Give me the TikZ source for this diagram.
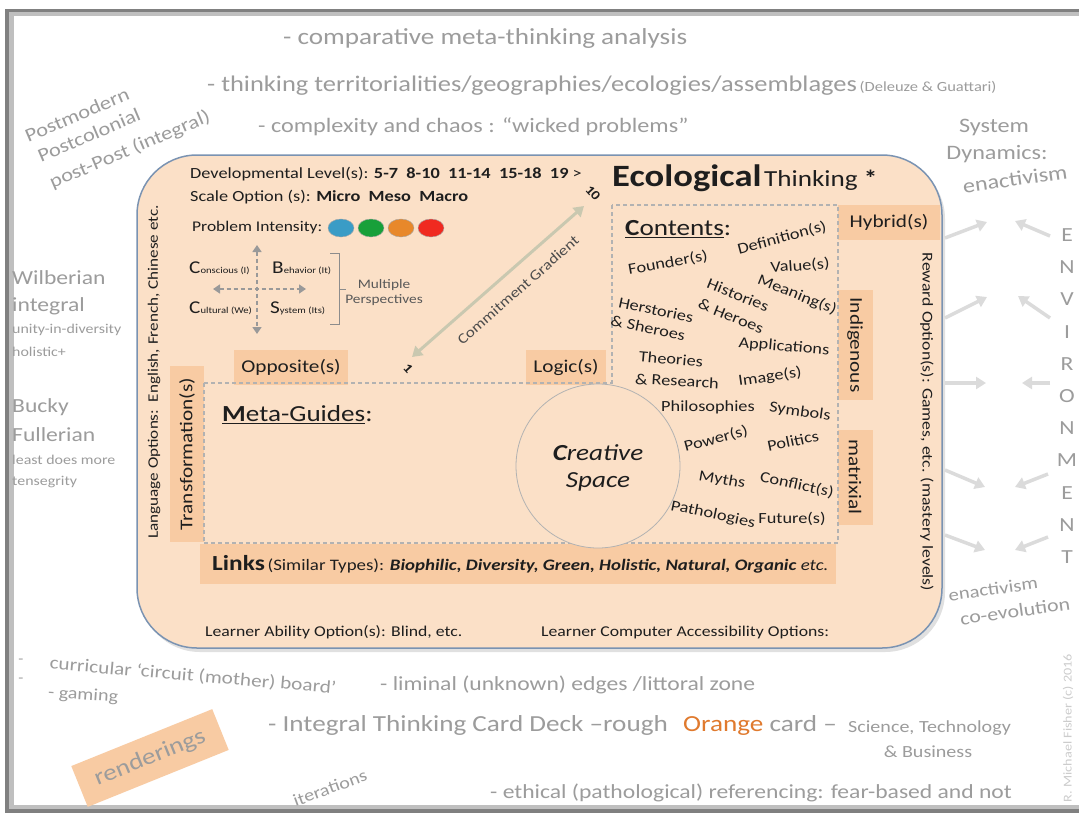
\documentclass[tikz,border=0pt]{standalone}
\usepackage{fontspec}
\setmainfont[FakeStretch=1.18]{Carlito}
\usetikzlibrary{arrows.meta}
\definecolor{cardfill}{HTML}{FBE0C7}
\definecolor{boxfill}{HTML}{F8CBA3}
\definecolor{cardline}{HTML}{7A93B2}
\definecolor{gtext}{HTML}{9C9C9C}
\definecolor{dtext}{HTML}{1E1E1E}
\definecolor{orangetxt}{HTML}{E07A2E}
\definecolor{cgcol}{HTML}{C9C8B0}
\definecolor{piblue}{HTML}{3A9CC6}
\definecolor{pigreen}{HTML}{18A03A}
\definecolor{piorange}{HTML}{E8882A}
\definecolor{pired}{HTML}{F02A20}
\newcommand{\myfs}[1]{\fontsize{#1}{#1}\selectfont}
\begin{document}
\begin{tikzpicture}[x=1pt,y=-1pt,
  g/.style={text=gtext, inner sep=0pt},
  d/.style={text=dtext, inner sep=0pt},
  pbox/.style={fill=boxfill, inner sep=0pt, draw=none, text=dtext},
  cw/.style={text=dtext, inner sep=0pt, font=\myfs{15.5}},
  envarrow/.style={draw=black!14, line width=3.5pt, -{Triangle[length=10pt,width=12pt]}},
  quadarrow/.style={draw=black!40, line width=1.6pt, dash pattern=on 4pt off 3pt, {Triangle[length=7pt,width=9pt]}-{Triangle[length=7pt,width=9pt]}},
  dashline/.style={draw=black!30, line width=1.2pt, dash pattern=on 4pt off 3pt},
]
\useasboundingbox (0,0) rectangle (1079,816);
\fill[white] (0,0) rectangle (1079,816);
% frame
\fill[black!50] (5,9) rectangle (1079,813);
\fill[black!25] (9,12) rectangle (1079,809);
\fill[white] (14,16) rectangle (1079,805);

% ---------- card ----------
\fill[black!12, rounded corners=60pt] (140,159) rectangle (945,652);
\draw[cardline, line width=1.5pt, fill=cardfill, rounded corners=60pt] (137,155) rectangle (942,648);

% boxes
\node[pbox, minimum width=114pt, minimum height=35pt, font=\myfs{18}] (opp) at (291,367) {Opposite(s)};
\node[pbox, minimum width=80pt, minimum height=35pt, font=\myfs{18}] (logic) at (566,367) {Logic(s)};
\node[pbox, rotate=90, minimum width=176pt, minimum height=34pt, font=\myfs{18}] (trans) at (187,454) {Transformation(s)};
\node[pbox, minimum width=102pt, minimum height=35pt, font=\myfs{18}] (hyb) at (889,222) {Hybrid(s)};
\node[pbox, rotate=-90, minimum width=110pt, minimum height=35pt, font=\myfs{18}] (indi) at (855,345) {Indigenous};
\node[pbox, rotate=-90, minimum width=95pt, minimum height=35pt, font=\myfs{18}] (matr) at (855,477) {matrixial};
\node[pbox, minimum width=636pt, minimum height=40pt] (linksbox) at (518,564) {};
\node[d, anchor=west] (links) at (212,564) {{\myfs{21.5}\textbf{Links}} {\myfs{16}(Similar Types): \textbf{\textit{Biophilic, Diversity, Green, Holistic, Natural, Organic}} \textit{etc.}}};

% dashed areas
\draw[dashline] (612,205) rectangle (838,543);
\draw[dashline] (204,383) -- (612,383);
\draw[dashline] (204,543) -- (612,543);
\draw[dashline] (204,383) -- (204,543);

% creative space
\node[circle, draw=black!30, line width=0.8pt, fill=cardfill, minimum size=164pt, inner sep=0pt] (cs) at (598,466) {};
\node[d, font=\myfs{23}\itshape] (cs1) at (598,453) {\textbf{C}reative};
\node[d, font=\myfs{23}\itshape] (cs2) at (598,482) {Space};

% headers
\node[d, anchor=west] (eco) at (612,178) {{\myfs{31}\textbf{Ecological}}\ {\myfs{23}Thinking \textbf{*}}};
\node[d, anchor=west, font=\myfs{15.5}] (dev) at (190,174) {Developmental Level(s): \textbf{5-7\ \ 8-10\ \ 11-14\ \ 15-18\ \ 19} >};
\node[d, anchor=west, font=\myfs{15.5}] (scale) at (190,197) {Scale Option (s): \textbf{Micro\ \ Meso\ \ Macro}};
\node[d, anchor=west, font=\myfs{14.8}] (pi) at (192,228) {Problem Intensity:};
\draw[black!35, fill=piblue] (341,228) ellipse [x radius=13pt, y radius=9pt];
\draw[black!35, fill=pigreen] (371,228) ellipse [x radius=13pt, y radius=9pt];
\draw[black!35, fill=piorange] (401,228) ellipse [x radius=13pt, y radius=9pt];
\draw[black!35, fill=pired] (431,228) ellipse [x radius=13pt, y radius=9pt];

% quadrants
\coordinate (qt) at (257,245);
\coordinate (qb) at (257,334);
\coordinate (ql) at (213,289);
\coordinate (qr) at (306,289);
\draw[quadarrow] (qt) -- (qb);
\draw[quadarrow] (ql) -- (qr);
\node[d, anchor=west] (q1) at (189,268) {{\myfs{18}C}{\myfs{9}onscious (I)}};
\node[d, anchor=west] (q2) at (272,268) {{\myfs{18}B}{\myfs{9}ehavior (It)}};
\node[d, anchor=west] (q3) at (189,308) {{\myfs{18}C}{\myfs{9}ultural (We)}};
\node[d, anchor=west] (q4) at (270,308) {{\myfs{18}S}{\myfs{9}ystem (Its)}};
\draw[black!45, line width=1pt] (330,253) -- (339,253) -- (339,324) -- (330,324);
\draw[black!45, line width=1pt] (339,289) -- (346,289);
\node[inner sep=0pt, text=black!65, font=\myfs{13}, align=center] (mp) at (384,293) {Multiple\\[2pt]Perspectives};

% commitment gradient
\coordinate (cg1) at (412,357);
\coordinate (cg2) at (584,206);
\draw[draw=cgcol, line width=3pt, {Triangle[length=10pt,width=12pt]}-{Triangle[length=10pt,width=12pt]}] (cg1) -- (cg2);
\node[inner sep=0pt, rotate=41.3, text=black!70, font=\myfs{14.5}] (cglab) at (518,290) {Commitment Gradient};
\node[d, rotate=-48, font=\myfs{13}\bfseries] (ten) at (593,193) {10};
\node[d, rotate=-48, font=\myfs{13}\bfseries] (one) at (408,369) {1};

% meta guides & contents
\node[d, anchor=west, font=\myfs{23}] (meta) at (222,415) {\underline{\textbf{M}eta-Guides}:};
\node[d, anchor=west, font=\myfs{23}] (cont) at (625,229) {\underline{\textbf{C}ontents}:};

\node[cw, rotate=15] (w1) at (782,238) {Definition(s)};
\node[cw, rotate=10] (w2) at (668,263) {Founder(s)};
\node[cw, rotate=4] (w3) at (800,266) {Value(s)};
\node[cw, rotate=-22] (w4) at (797,295) {Meaning(s)};
\node[cw, rotate=-22] (w5) at (738,295) {Histories};
\node[cw, rotate=-22] (w6) at (731,316) {\& Heroes};
\node[cw, rotate=-12] (w7) at (656,310) {Herstories};
\node[cw, rotate=-12] (w8) at (648,328) {\& Sheroes};
\node[cw, rotate=-5] (w9) at (671,359) {Theories};
\node[cw, rotate=-3] (w10) at (677,381) {\& Research};
\node[cw, rotate=-5] (w11) at (784,347) {Applications};
\node[cw, rotate=8] (w12) at (770,377) {Image(s)};
\node[cw] (w13) at (708,407) {Philosophies};
\node[cw, rotate=-8] (w14) at (800,412) {Symbols};
\node[cw, rotate=15] (w15) at (716,439) {Power(s)};
\node[cw, rotate=12] (w16) at (793,441) {Politics};
\node[cw, rotate=-10] (w17) at (722,480) {Myths};
\node[cw, rotate=-12] (w18) at (797,485) {Conflict(s)};
\node[cw, rotate=-12] (w19) at (713,515) {Pathologies};
\node[cw] (w20) at (792,519) {Future(s)};

% side texts
\node[d, rotate=90, font=\myfs{14.5}] (lang) at (154,372) {Language Options:\ \ English, French, Chinese etc.};
\node[d, rotate=-90, font=\myfs{15}] (reward) at (927,422) {Reward Option(s): Games, etc. (mastery levels)};
\node[d, anchor=west, font=\myfs{15}] (la) at (205,632) {Learner Ability Option(s): Blind, etc.};
\node[d, anchor=west, font=\myfs{15}] (lc) at (541,632) {Learner Computer Accessibility Options:};

% ---------- outside texts ----------
\node[g, anchor=west, font=\myfs{23}] (t1) at (283,38) {- comparative meta-thinking analysis};
\node[g, anchor=west] (t2) at (207,86) {{\myfs{22.4}- thinking territorialities/geographies/ecologies/assemblages} {\myfs{14}(Deleuze \& Guattari)}};
\node[g, anchor=west, font=\myfs{20.5}] (t3) at (258,127) {- complexity and chaos : “wicked problems”};

\node[g, rotate=23, font=\myfs{19}] (pm1) at (77,115) {Postmodern};
\node[g, rotate=23, font=\myfs{19}] (pm2) at (89,135) {Postcolonial};
\node[g, rotate=23, font=\myfs{19}] (pm3) at (130,150) {post-Post (integral)};

\node[g, anchor=west, font=\myfs{20}] (wb1) at (12,278) {Wilberian};
\node[g, anchor=west, font=\myfs{20}] (wb2) at (12,306) {integral};
\node[g, anchor=west, font=\myfs{13.5}] (wb3) at (12,330) {unity-in-diversity};
\node[g, anchor=west, font=\myfs{13.5}] (wb4) at (12,352) {holistic+};
\node[g, anchor=west, font=\myfs{20}] (bf1) at (12,407) {Bucky};
\node[g, anchor=west, font=\myfs{20}] (bf2) at (12,435) {Fullerian};
\node[g, anchor=west, font=\myfs{13.5}] (bf3) at (12,460) {least does more};
\node[g, anchor=west, font=\myfs{13.5}] (bf4) at (12,482) {tensegrity};

\node[g, font=\myfs{20.5}] (sd1) at (994,127) {System};
\node[g, font=\myfs{20.5}] (sd2) at (997,154) {Dynamics:};
\node[g, rotate=8, font=\myfs{20.5}] (sd3) at (1015,179) {enactivism};

\foreach \L [count=\i] in {E,N,V,I,R,O,N,M,E,N,T}{
  \node[g, font=\myfs{20}] (env\i) at (1067,{235+32.2*(\i-1)}) {\L};
}
\coordinate (a1s) at (945,238); \coordinate (a1e) at (987,222);
\coordinate (b1s) at (1050,236); \coordinate (b1e) at (1015,221);
\coordinate (a2s) at (945,318); \coordinate (a2e) at (987,297);
\coordinate (b2s) at (1050,318); \coordinate (b2e) at (1018,296);
\coordinate (a3s) at (945,383); \coordinate (a3e) at (986,383);
\coordinate (b3s) at (1050,383); \coordinate (b3e) at (1022,383);
\coordinate (a4s) at (945,470); \coordinate (a4e) at (985,487);
\coordinate (b4s) at (1048,474); \coordinate (b4e) at (1015,487);
\coordinate (a5s) at (945,535); \coordinate (a5e) at (985,550);
\coordinate (b5s) at (1048,537); \coordinate (b5e) at (1015,550);
\foreach \k in {1,...,5}{
  \draw[envarrow] (a\k s) -- (a\k e);
  \draw[envarrow] (b\k s) -- (b\k e);
}
\node[g, rotate=8, font=\myfs{17.5}] (ea1) at (993,589) {enactivism};
\node[g, rotate=8, font=\myfs{18.5}] (ea2) at (1015,611) {co-evolution};

% bottom
\node[g, font=\myfs{14}] (dash1) at (21,661) {-};
\node[g, font=\myfs{14}] (dash2) at (21,680) {-};
\node[g, rotate=-5, font=\myfs{18}] (cur) at (193,676) {curricular ‘circuit (mother) board’};
\node[g, rotate=-4, anchor=west, font=\myfs{17}] (gam) at (48,693) {- gaming};
\node[g, anchor=west, font=\myfs{20}] (lim) at (380,685) {- liminal (unknown) edges /littoral zone};
\node[g, anchor=west, font=\myfs{23}] (itc) at (268,725) {- Integral Thinking Card Deck –rough};
\node[g, anchor=west, font=\myfs{23}] (orc) at (683,725) {\textcolor{orangetxt}{Orange} card –};
\node[g, anchor=west, font=\myfs{17}] (sci) at (848,728) {Science, Technology};
\node[g, font=\myfs{17}] (bus) at (928,752) {\& Business};
\node[pbox, rotate=22, minimum width=152pt, minimum height=44pt, text=gtext, font=\myfs{23}] (rend) at (150,758) {renderings};
\node[g, rotate=20, font=\myfs{17}] (iter) at (330,788) {iterations};
\node[g, anchor=west, font=\myfs{20}] (eth) at (490,793) {- ethical (pathological) referencing: fear-based and not};
\node[inner sep=0pt, text=black!20, rotate=90, font=\myfs{12}] (copy) at (1068,728) {R. Michael Fisher (c) 2016};
\end{tikzpicture}
\end{document}
